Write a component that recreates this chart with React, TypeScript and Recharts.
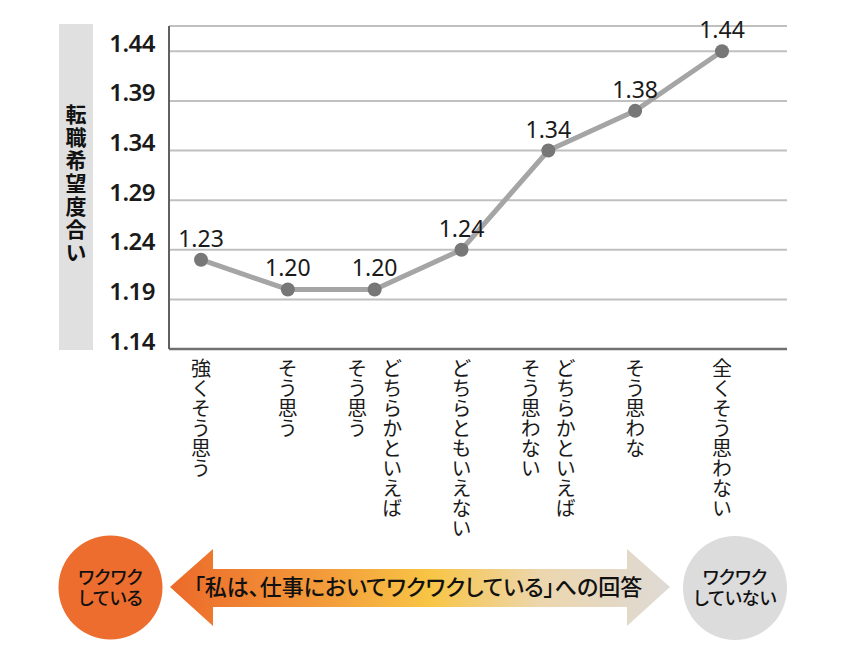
import { LineChart, Line, XAxis, YAxis, CartesianGrid, LabelList } from 'recharts'

const categories = [
  '強くそう思う',
  'そう思う',
  'どちらかといえば\nそう思う',
  'どちらともいえない',
  'どちらかといえば\nそう思わない',
  'そう思わな',
  '全くそう思わない',
]
const values = [1.23, 1.2, 1.2, 1.24, 1.34, 1.38, 1.44]
const yTicks = [1.14, 1.19, 1.24, 1.29, 1.34, 1.39, 1.44]
const yTitle = '転職希望度合い'
const answerCaption = '「私は、仕事においてワクワクしている」への回答'
const leftBadge = ['ワクワク', 'している']
const rightBadge = ['ワクワク', 'していない']

const data = categories.map((answer, i) => ({ answer, score: values[i] }))

const JP = '"Noto Sans CJK JP", "Noto Sans", sans-serif'
const LATIN = '"Noto Sans", sans-serif'

function AnswerTick(props: any) {
  const { x, payload } = props
  const cols = String(payload.value).split('\n')
  const pitch = 35
  return (
    <g>
      {cols.map((col, i) => (
        <text
          key={i}
          x={x + ((cols.length - 1) / 2 - i) * pitch}
          y={358}
          fontSize={20}
          fill="#1a1a1a"
          fontFamily={JP}
          style={{ writingMode: 'vertical-rl' }}
        >
          {col}
        </text>
      ))}
    </g>
  )
}

function ScoreTick(props: any) {
  const { y, payload } = props
  return (
    <text
      x={155}
      y={y + 0.5}
      textAnchor="end"
      fontSize={24}
      fontWeight={600}
      letterSpacing={-0.5}
      fill="#1a1a1a"
      fontFamily={LATIN}
    >
      {Number(payload.value).toFixed(2)}
    </text>
  )
}

function ValueLabel(props: any) {
  const { x, y, value } = props
  return (
    <text x={x} y={y - 13} textAnchor="middle" fontSize={23} fill="#1a1a1a" fontFamily={LATIN}>
      {Number(value).toFixed(2)}
    </text>
  )
}

// circle with a two-line caption, kept in one <text> so the lines share a box
function Badge({ cx, cy, fill, lines }: { cx: number; cy: number; fill: string; lines: string[] }) {
  return (
    <g>
      <circle cx={cx} cy={cy} r={52} fill={fill} />
      <text
        x={cx}
        y={cy - 4}
        textAnchor="middle"
        fontSize={18}
        fontWeight={500}
        fill="#111"
        fontFamily={JP}
        style={{ fontFeatureSettings: '"palt"' }}
      >
        {lines.map((t, i) => (
          <tspan key={i} x={cx} dy={i === 0 ? 0 : 21}>
            {t}
          </tspan>
        ))}
      </text>
    </g>
  )
}

export default function App() {
  return (
    <div style={{ position: 'absolute', left: 0, top: 0, width: 846, height: 660, background: '#fff' }}>
      <svg width={846} height={660} style={{ position: 'absolute', left: 0, top: 0 }}>
        <defs>
          <linearGradient id="answerArrow" x1="170" x2="670" y1="0" y2="0" gradientUnits="userSpaceOnUse">
            <stop offset="0" stopColor="#ec6a2a" />
            <stop offset="0.3" stopColor="#f39a3a" />
            <stop offset="0.52" stopColor="#f8c545" />
            <stop offset="0.74" stopColor="#ecd6ad" />
            <stop offset="1" stopColor="#dedad5" />
          </linearGradient>
        </defs>
        <rect x={59} y={24} width={34} height={326} fill="#e0e0e0" />
        <text
          x={76}
          y={184}
          textAnchor="middle"
          fontSize={21}
          fontWeight={700}
          letterSpacing={2}
          fill="#111"
          fontFamily={JP}
          style={{ writingMode: 'vertical-rl' }}
        >
          {yTitle}
        </text>
        <polygon
          points="170,587 213,549 213,569 627,569 627,549 670,587 627,626 627,607 213,607 213,626"
          fill="url(#answerArrow)"
        />
        <text
          x={418}
          y={595}
          textAnchor="middle"
          fontSize={22}
          fontWeight={500}
          fill="#111"
          fontFamily={JP}
          style={{ fontFeatureSettings: '"palt"' }}
        >
          {answerCaption}
        </text>
        <Badge cx={110.5} cy={587.5} fill="#ec6d2e" lines={leftBadge} />
        <Badge cx={735} cy={588} fill="#dcdcdc" lines={rightBadge} />
      </svg>
      <div style={{ position: 'absolute', left: 0, top: 0 }}>
        <LineChart width={846} height={660} data={data} margin={{ top: 26, right: 59, bottom: 111, left: 109 }}>
          <CartesianGrid vertical={false} stroke="#c0c0c0" strokeWidth={2} />
          <XAxis
            dataKey="answer"
            padding={{ left: 32, right: 65 }}
            height={200}
            axisLine={{ stroke: '#707070', strokeWidth: 2.5 }}
            tickLine={false}
            tick={<AnswerTick />}
            interval={0}
          />
          <YAxis
            type="number"
            domain={[1.14, 1.4655]}
            ticks={yTicks}
            width={60}
            allowDataOverflow
            axisLine={{ stroke: '#606060', strokeWidth: 2 }}
            tickLine={false}
            tick={<ScoreTick />}
          />
          <Line
            dataKey="score"
            stroke="#a5a5a5"
            strokeWidth={5}
            dot={{ r: 7, fill: '#777777', stroke: 'none' }}
            isAnimationActive={false}
          >
            <LabelList dataKey="score" content={<ValueLabel />} />
          </Line>
        </LineChart>
      </div>
    </div>
  )
}
